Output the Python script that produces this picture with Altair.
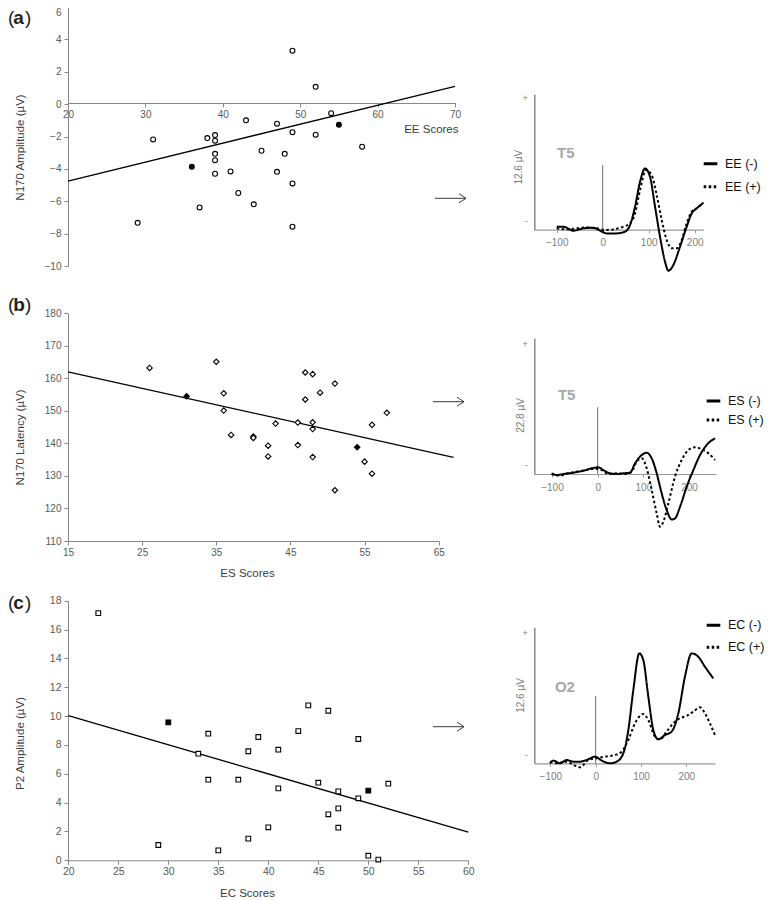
import altair as alt
import pandas as pd

# ---------------- layout constants (page px) ----------------
OX, OY = 16, 16          # group origin on page (8 body margin + 8 padding)
W, H = 752, 884

# ---------------- data: panel (a) ----------------
ee_scores = [49, 52, 54, 55, 43, 47, 49, 52, 58, 31, 38, 39, 39, 39, 39, 39, 36, 41, 45, 48, 47, 49, 42, 44, 37, 29, 49]
n170_amp = [3.3, 1.07, -0.56, -1.28, -1.0, -1.21, -1.73, -1.89, -2.63, -2.18, -2.1, -1.91, -2.26, -3.07, -3.46, -4.3,
            -3.87, -4.16, -2.88, -3.07, -4.18, -4.9, -5.49, -6.19, -6.38, -7.33, -7.57]
ee_filled = [0, 0, 0, 1, 0, 0, 0, 0, 0, 0, 0, 0, 0, 0, 0, 0, 1, 0, 0, 0, 0, 0, 0, 0, 0, 0, 0]
ee_fit_x = [20, 70]
ee_fit_y = [-4.75, 1.1]

# ---------------- data: panel (b) ----------------
es_scores = [26, 31, 35, 36, 36, 37, 40, 40, 42, 42, 43, 46, 46, 47, 48, 47, 49, 48, 48, 48, 51, 51, 54, 55, 56, 56, 58]
n170_lat = [163.2, 154.5, 165.1, 155.4, 150.1, 142.6, 142.1, 141.7, 139.3, 136.0, 146.1, 146.4, 139.5, 161.8, 161.3,
            153.5, 155.6, 146.5, 144.4, 135.8, 158.4, 125.6, 138.8, 134.4, 130.7, 145.7, 149.4]
es_filled = [0, 1, 0, 0, 0, 0, 0, 0, 0, 0, 0, 0, 0, 0, 0, 0, 0, 0, 0, 0, 0, 0, 1, 0, 0, 0, 0]
es_fit_x = [15, 67]
es_fit_y = [162.0, 135.7]

# ---------------- data: panel (c) ----------------
ec_scores = [23, 30, 33, 34, 34, 29, 35, 37, 38, 38, 39, 40, 41, 41, 43, 44, 45, 46, 46, 47, 47, 47, 49, 49, 50, 50, 51, 52]
p2_amp = [17.14, 9.57, 7.39, 8.78, 5.59, 1.06, 0.69, 5.59, 7.56, 1.5, 8.55, 2.29, 7.67, 4.99, 8.96, 10.74, 5.38, 10.37,
          3.19, 4.78, 3.6, 2.26, 8.41, 4.3, 4.83, 0.32, 0.05, 5.31]
ec_filled = [0, 1, 0, 0, 0, 0, 0, 0, 0, 0, 0, 0, 0, 0, 0, 0, 0, 0, 0, 0, 0, 0, 0, 0, 1, 0, 0, 0]
ec_fit_x = [20, 60]
ec_fit_y = [10.03, 1.95]

# ---------------- ERP waveforms (ms, µV) ----------------
ee_neg_t = [-100, -85.5, -63.8, -42, -20.3, -5.8, 8.7, 30.4, 48.6, 59.4, 70.3, 81.2, 92, 102.9, 113.8, 124.6, 135.5,
            142.8, 153.6, 168.1, 182.6, 193.5, 204.3, 218.8]
ee_neg_v = [0.3, 0.3, -0.1, 0.14, 0.2, -0.1, -0.38, -0.38, -0.2, 0.48, 2.37, 4.95, 6.32, 5.46, 2.37, -0.72, -3.3,
            -4.23, -3.64, -1.75, 0.31, 1.68, 2.2, 2.78]
ee_pos_t = [-100, -78, -56.5, -34.8, -13, 5, 23, 45, 59.4, 70.3, 81.2, 94.2, 106.5, 117.4, 128.3, 139.1, 150, 160.9,
            171.7, 182.6, 193.5, 204.3, 218.8]
ee_pos_v = [0.14, 0.03, 0.14, 0.24, 0.14, -0.03, 0.03, 0.31, 0.65, 1.68, 4.09, 6.15, 5.64, 3.57, 1.0, -1.07, -1.92,
            -1.92, -1.07, 0.65, 1.86, 2.2, 2.78]

es_neg_t = [-100.7, -89.8, -75.2, -53.3, -31.4, -13.1, 1.5, 12.4, 27, 41.6, 56.2, 70.8, 81.8, 96.4, 107.3, 118.2,
            129.2, 140.1, 151.1, 162, 169.3, 180.3, 194.9, 209.5, 224.1, 238.7, 256.9]
es_neg_v = [0.13, -0.19, 0, 0.25, 0.63, 1.07, 1.26, 0.75, 0.13, 0, 0.13, 0.25, 2.0, 3.58, 4.0, 2.96, 0.13, -3.65,
            -6.8, -8.55, -8.36, -6.16, -2.39, 0.75, 3.58, 5.47, 6.73]
es_pos_t = [-100.7, -82.5, -64.2, -46, -24.1, -5.8, 8.8, 23.4, 41.6, 59.9, 74.5, 85.4, 96.4, 107.3, 118.2, 129.2,
            136.5, 143.8, 154.7, 169.3, 183.9, 198.5, 213.1, 227.7, 242.3, 256.9]
es_pos_v = [0, -0.31, 0.13, 0.44, 0.75, 1.0, 0.75, 0, 0.13, 0, 0.44, 2.33, 2.96, 1.07, -3.02, -7.42, -9.94, -8.99,
            -5.53, -0.5, 2.64, 4.53, 5.03, 4.65, 3.9, 2.64]

ec_neg_t = [-100.7, -93.4, -78.7, -64, -49.3, -34.6, -19.9, -1.5, 13.2, 31.6, 46.3, 61, 72.1, 83.1, 96.3, 105.1,
            116.2, 127.2, 138.2, 152.9, 167.6, 182.4, 197.1, 211.8, 226.5, 241.2, 259.6]
ec_neg_v = [0, 0.28, 0, 0.34, 0.17, 0.17, 0.34, 0.69, 0.28, 0, 0.17, 1.03, 3.45, 7.59, 11.38, 10.69, 6.9, 3.45, 2.48,
            2.93, 3.28, 5.17, 8.97, 11.38, 11.03, 10.0, 8.79]
ec_pos_t = [-100.7, -86, -64, -49.3, -34.6, -16.2, 2.2, 20.6, 42.6, 57.4, 72.1, 86.8, 105.1, 116.2, 130.9, 141.9,
            156.6, 171.3, 186, 200.7, 215.4, 230.1, 241.2, 252.2, 263.2]
ec_pos_v = [0.17, 0, 0.17, -0.17, -0.41, 0.34, 0.52, 0.69, 0.86, 1.2, 2.41, 4.14, 5.1, 4.48, 2.76, 2.48, 3.28, 4.14,
            4.66, 4.9, 5.34, 5.79, 5.17, 4.14, 2.93]

erp_ticks = [-100, 0, 100, 200]

# ---------------- styles ----------------
AX = dict(grid=False, domainColor='#868686', tickColor='#868686', tickSize=4, labelColor='#595959',
          labelFont='Liberation Sans', labelFlush=False, labelOverlap=False,
          titleFontWeight='normal', titleColor='#404040', titleFontSize=11.5, titleFont='Liberation Sans')


def scatter(xs, ys, filled, fx, fy, shape, size, xdom, xrng, xvals, xaxis_y, xtitle, xkw,
            ydom, yrng, yvals, ytitle, ytitle_y, lab_size=10, ylab_baseline='middle'):
    pts = pd.DataFrame({'x': xs, 'y': ys, 'filled': filled})
    fit = pd.DataFrame({'x': fx, 'y': fy})
    ax = dict(AX, labelFontSize=lab_size)
    X = alt.X('x:Q', scale=alt.Scale(domain=xdom, range=[r - OX for r in xrng], nice=False, zero=False),
              axis=alt.Axis(orient='bottom', offset=(xaxis_y - OY) - H, values=xvals, title=xtitle,
                            labelPadding=2, **xkw, **ax))
    Y = alt.Y('y:Q', scale=alt.Scale(domain=ydom, range=[r - OY for r in yrng], nice=False, zero=False),
              axis=alt.Axis(orient='left', offset=-(68 - OX), values=yvals, title=ytitle,
                            titleX=-48, titleY=ytitle_y - OY, titleAngle=270, titleBaseline='middle',
                            titleAlign='center', labelPadding=3, labelBaseline=ylab_baseline, **ax))
    line = alt.Chart(fit).mark_line(color='black', strokeWidth=1.3).encode(x=X, y=Y)
    points = alt.Chart(pts).mark_point(shape=shape, size=size, filled=True, stroke='black',
                                       strokeWidth=1.1, opacity=1).encode(
        x=X, y=Y, fill=alt.condition('datum.filled == 1', alt.value('black'), alt.value('white')))
    return alt.layer(line, points)


def erp(tn, vn, tp, vp, labs, xdom, xrng, base_y, top_y, ydom, pm_vals, ytitle, ytx, yty,
        elec, elec_t, elec_v, onset_top, lx, ly, rowpad):
    df = pd.DataFrame({'t': tn + tp, 'v': vn + vp, 'cond': [labs[0]] * len(tn) + [labs[1]] * len(tp)})
    X = alt.X('t:Q', scale=alt.Scale(domain=xdom, range=[r - OX for r in xrng], nice=False, zero=False),
              axis=alt.Axis(orient='bottom', offset=(base_y - OY) - H, values=erp_ticks, title=None, grid=False,
                            domainColor='#9a9a9a', tickColor='#9a9a9a', tickSize=3, labelColor='#808080',
                            labelFontSize=10, labelFont='Liberation Sans', labelPadding=5, labelFlush=False,
                            domainWidth=1.2))
    Y = alt.Y('v:Q', scale=alt.Scale(domain=ydom, range=[base_y - OY, top_y - OY], nice=False, zero=False),
              axis=alt.Axis(orient='left', offset=-(534.3 - OX), values=pm_vals,
                            labelExpr="datum.value > 3 ? '+' : '-'", tickSize=0, labelPadding=7, grid=False,
                            domainColor='#8a8a8a', domainWidth=1.5, labelColor='#808080', labelFontSize=9,
                            labelFont='Liberation Sans', title=ytitle, titleX=ytx, titleY=yty - OY,
                            titleAngle=270, titleBaseline='middle', titleAlign='center', titleFontSize=10,
                            titleFontWeight='normal', titleColor='#7a7a7a', titleFont='Liberation Sans'))
    lines = alt.Chart(df).mark_line(color='black', strokeWidth=2, interpolate='monotone').encode(
        x=X, y=Y,
        strokeDash=alt.StrokeDash('cond:N', scale=alt.Scale(domain=labs, range=[[1, 0], [2.5, 2.5]]),
                                  legend=alt.Legend(orient='none', legendX=lx - OX, legendY=ly - OY, title=None,
                                                    labelFontSize=12.5, labelFont='Liberation Sans',
                                                    labelColor='#111111', symbolStrokeWidth=3, symbolSize=185,
                                                    symbolStrokeColor='black', rowPadding=rowpad,
                                                    labelOffset=6, padding=0)))
    onset = alt.Chart(pd.DataFrame({'t': [0], 'v': [0], 'v2': [onset_top]})).mark_rule(
        color='#6e6e6e', strokeWidth=1).encode(x=X, y=Y, y2='v2:Q')
    label = alt.Chart(pd.DataFrame({'t': [elec_t], 'v': [elec_v], 's': [elec]})).mark_text(
        fontSize=15, fontWeight='bold', color='#a8a8a8', font='Liberation Sans', align='center',
        baseline='middle').encode(x=X, y=Y, text='s:N')
    return alt.layer(onset, lines, label)


scA = scatter(ee_scores, n170_amp, ee_filled, ee_fit_x, ee_fit_y, 'circle', 24,
              [20, 70], [68, 455], [20, 30, 40, 50, 60, 70], 103, 'EE Scores',
              dict(titleX=458 - OX, titleY=26, titleAlign='right', titleBaseline='middle'),
              [-10, 6], [266, 7], list(range(-10, 7, 2)), 'N170 Amplitude (µV)', 147,
              ylab_baseline={'condition': {'test': 'datum.value == 6', 'value': 'top'}, 'value': 'middle'})

scB = scatter(es_scores, n170_lat, es_filled, es_fit_x, es_fit_y, 'diamond', 30,
              [15, 65], [68, 438.7], [15, 25, 35, 45, 55, 65], 541, 'ES Scores',
              dict(titleX=247 - OX, titleY=32, titleAlign='center', titleBaseline='middle', ),
              [110, 180], [541, 313.3], list(range(110, 181, 10)), 'N170 Latency (µV)', 437)

scC = scatter(ec_scores, p2_amp, ec_filled, ec_fit_x, ec_fit_y, 'square', 22,
              [20, 60], [68.3, 468.3], list(range(20, 61, 5)), 860.3, 'EC Scores',
              dict(titleX=247 - OX, titleY=33, titleAlign='center', titleBaseline='middle'),
              [0, 18], [860.3, 600.7], list(range(0, 19, 2)), 'P2 Amplitude (µV)', 743, lab_size=10.5)

erA = erp(ee_neg_t, ee_neg_v, ee_pos_t, ee_pos_v, ['EE (-)', 'EE (+)'], [-148.7, 218.7], [534.3, 703.3],
          229.7, 94, [0, 14.0], [0.93, 13.6], '12.6 µV', -16, 166.7, 'T5', -80.4, 7.88, 6.67,
          702, 155.2, 8)
erB = erp(es_neg_t, es_neg_v, es_pos_t, es_pos_v, ['ES (-)', 'ES (+)'], [-138.7, 259], [534.3, 716],
          474, 338.3, [0, 25.55], [1.7, 24.5], '22.8 µV', -14.3, 415, 'T5', -67.8, 14.9, 12.56,
          705, 392.5, 4)
erC = erp(ec_neg_t, ec_neg_v, ec_pos_t, ec_pos_v, ['EC (-)', 'EC (+)'], [-135.5, 263.4], [534.3, 715],
          763.3, 627.3, [0, 14.08], [0.93, 13.5], '12.6 µV', -14.3, 695, 'O2', -68, 7.9, 6.97,
          705, 616.8, 7)

# thin open arrows pointing to the waveform insets (shaft + two head strokes)
arrows = []
one = pd.DataFrame({'k': [0]})
for x0, x1, yy in [(435, 466, 198.3), (433, 464, 401.7), (433, 464, 726.7)]:
    segs = [(x0, yy, x1, yy), (x1 - 7, yy - 4.5, x1, yy), (x1 - 7, yy + 4.5, x1, yy)]
    for a, b, c, d in segs:
        arrows.append(alt.Chart(one).mark_rule(color='#3a3a3a', strokeWidth=1).encode(
            x=alt.value(a - OX), y=alt.value(b - OY), x2=alt.value(c - OX), y2=alt.value(d - OY)))

# panel letters
letters = []
for let, ly_ in [('a', 18), ('b', 305), ('c', 603)]:
    for s, xx, wgt in [('(', 8, 'normal'), (let, 13.3, 'bold'), (')', 25, 'normal')]:
        letters.append(alt.Chart(pd.DataFrame({'s': [s]})).mark_text(
            fontSize=19, font='Liberation Sans', fontWeight=wgt, color='#222222', align='left',
            baseline='middle').encode(x=alt.value(xx - OX), y=alt.value(ly_ - OY), text='s:N'))

chart = alt.layer(scA, scB, scC, erA, erB, erC, *arrows, *letters).resolve_scale(
    x='independent', y='independent', strokeDash='independent').resolve_legend(
    strokeDash='independent').properties(
    width=W, height=H, padding={'left': 8, 'top': 8, 'right': 0, 'bottom': 0},
    autosize=alt.AutoSizeParams(type='none'))

chart = chart.configure(font='Liberation Sans').configure_view(stroke=None)
chart.save("out.html", embed_options={"renderer": "svg", "actions": False})
